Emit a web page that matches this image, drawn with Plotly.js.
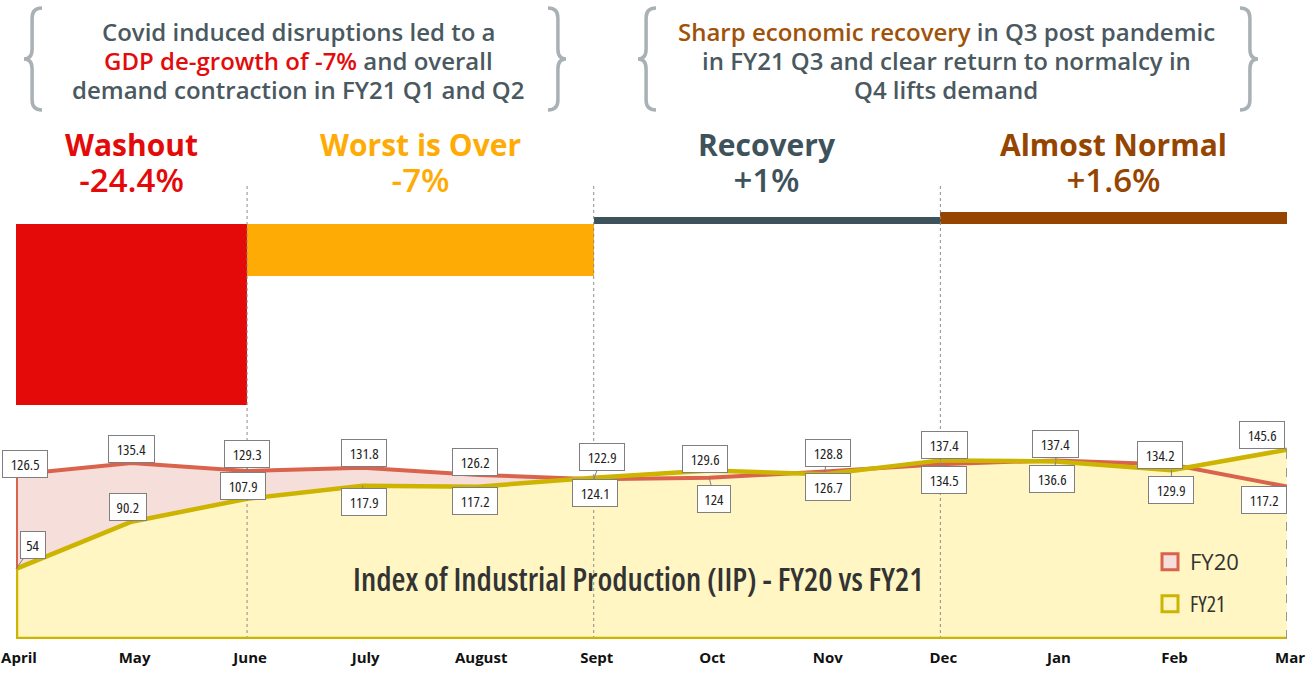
<!DOCTYPE html>
<html>
<head>
<meta charset="utf-8">
<script src="https://cdn.plot.ly/plotly-3.0.1.min.js"></script>
<style>
html,body{margin:0;padding:0;background:#fff;}
#chart{width:1314px;height:673px;}
#chart text{font-stretch:75%;}
#chart g.xtick text{font-stretch:100%;}
#chart text.legendtext{font-stretch:100%;}
</style>
</head>
<body>
<div id="chart"></div>
<script>
// ---------------- DATA ----------------
const months = ['April','May','June','July','August','Sept','Oct','Nov','Dec','Jan','Feb','Mar'];
const fy20 = [126.5, 135.4, 129.3, 131.8, 126.2, 122.9, 124, 128.8, 134.5, 137.4, 134.2, 117.2];
const fy21 = [54, 90.2, 107.9, 117.9, 117.2, 124.1, 129.6, 126.7, 137.4, 136.6, 129.9, 145.6];
const quarterNames = ['Washout', 'Worst is Over', 'Recovery', 'Almost Normal'];
const quarterGDP = [-24.4, -7, 1, 1.6];
const quarterStart = ['April', 'June', 'Sept', 'Dec'];
const quarterEnd = ['June', 'Sept', 'Dec', 'Mar'];
const chartTitle = 'Index of Industrial Production (IIP) - FY20 vs FY21';
const seriesNames = ['FY20', 'FY21'];
const noteLeft = ['Covid induced disruptions led to a', '<span style="color:#E30B0B">GDP de-growth of -7%</span> and overall', 'demand contraction in FY21 Q1 and Q2'];
const noteRight = ['<span style="color:#A0520A">Sharp economic recovery</span> in Q3 post pandemic', 'in FY21 Q3 and clear return to normalcy in', 'Q4 lifts demand'];

// ---------------- STYLE / LAYOUT ----------------
const W = 1314, H = 673;
const ML = 16, MR = 27, MT = 0, MB = 34;
const PW = W - ML - MR, PH = H - MT - MB;
const px = p => (p - ML) / PW;
const py = p => (H - MB - p) / PH;
const FONT = '"Open Sans", sans-serif';
const quarterColors = ['#E50A0A', '#FFAB05', '#3E525C', '#954500'];
const RED = '#D9634C', GOLD = '#CDB400';
const TXT = '#4A5960';
// label offsets (pixels) for callouts
const off20 = [[9,-11],[0,-14],[0,-17],[1,-15],[-3,-13],[8,-22],[5,21],[3,-19],[4,16],[0,-16],[-11,-10],[-23,13]];
const off21 = [[17,-24],[-4,-15],[-4,-13],[1,16],[-3,14],[1,15],[-4,-12],[3,13],[4,-15],[-4,18],[0,20],[-25,-15]];

const xi = months.map((m, i) => i);
const qs = quarterStart.map(m => months.indexOf(m));
const qe = quarterEnd.map(m => months.indexOf(m));

const traces = [
  {x: xi, y: fy20, type: 'scatter', mode: 'lines', fill: 'tozeroy', fillcolor: '#F6DEDA',
   line: {width: 0, color: RED}, showlegend: false, hoverinfo: 'skip', xaxis: 'x', yaxis: 'y'},
  {x: xi, y: fy21, type: 'scatter', mode: 'lines', fill: 'tozeroy', fillcolor: '#FFF6C4',
   line: {width: 0, color: GOLD}, showlegend: false, hoverinfo: 'skip', xaxis: 'x', yaxis: 'y'},
  {x: xi, y: fy20, type: 'scatter', mode: 'lines', line: {width: 4, color: RED},
   showlegend: false, cliponaxis: false, hoverinfo: 'skip', xaxis: 'x', yaxis: 'y'},
  {x: xi, y: fy21, type: 'scatter', mode: 'lines', line: {width: 4.5, color: GOLD},
   showlegend: false, cliponaxis: false, hoverinfo: 'skip', xaxis: 'x', yaxis: 'y'},
  {x: qs.map((s, i) => (s + qe[i]) / 2), y: quarterGDP, width: qs.map((s, i) => qe[i] - s),
   type: 'bar', marker: {color: quarterColors, line: {width: 0}}, showlegend: false,
   hoverinfo: 'skip', xaxis: 'x', yaxis: 'y2'},
  {x: [null], y: [null], type: 'scatter', mode: 'markers', name: seriesNames[0], legend: 'legend',
   marker: {symbol: 'square', size: 16, color: '#F6DEDA', line: {color: RED, width: 3}}},
  {x: [null], y: [null], type: 'scatter', mode: 'markers', name: seriesNames[1], legend: 'legend2',
   marker: {symbol: 'square', size: 16, color: '#FFF6C4', line: {color: GOLD, width: 3}}}
];

const annotations = [];
const stretchRules = [];
function addAnn(a, stretch) {
  if (stretch) stretchRules.push('#chart g.annotation[data-index="' + annotations.length + '"] text{font-stretch:' + stretch + ';}');
  annotations.push(a);
}
function callout(i, v, o) {
  addAnn({x: i, y: v, xref: 'x', yref: 'y', text: String(v), showarrow: true,
    ax: o[0], ay: o[1], axref: 'pixel', ayref: 'pixel', arrowhead: 0, arrowwidth: 1,
    arrowcolor: '#7F7F7F', standoff: 0, bgcolor: '#FFFFFF', bordercolor: '#7F7F7F',
    borderwidth: 1, borderpad: 3, font: {family: FONT, size: 15, color: '#222'}}, '75%');
}
fy20.forEach((v, i) => callout(i, v, off20[i]));
fy21.forEach((v, i) => callout(i, v, off21[i]));

// quarter labels (name + GDP growth, two lines in one annotation)
quarterNames.forEach((n, i) => {
  const cx = (qs[i] + qe[i]) / 2;
  const v = quarterGDP[i];
  const s = (v > 0 ? '+' : '') + v + '%';
  addAnn({x: cx, y: py(163), xref: 'x', yref: 'paper', showarrow: false,
    text: '<b><span style="font-size:30px">' + n + '</span></b><br><span style="font-size:33px">' + s + '</span>',
    xanchor: 'center', yanchor: 'middle', align: 'center',
    font: {family: FONT, size: 28, weight: 600, color: quarterColors[i]}}, '100%');
});

// header notes, one annotation per line
const noteY = [32, 60, 89];
noteLeft.forEach((t, k) => addAnn({x: px(298), y: py(noteY[k]), xref: 'paper', yref: 'paper', showarrow: false,
  xanchor: 'center', yanchor: 'middle', text: t, font: {family: FONT, size: 24, weight: 600, color: TXT}}, '100%'));
noteRight.forEach((t, k) => addAnn({x: px(946), y: py(noteY[k]), xref: 'paper', yref: 'paper', showarrow: false,
  xanchor: 'center', yanchor: 'middle', text: t, font: {family: FONT, size: 24, weight: 600, color: TXT}}, '100%'));

// chart title inside area
addAnn({x: px(638), y: py(578), xref: 'paper', yref: 'paper', showarrow: false,
  xanchor: 'center', yanchor: 'middle',
  text: chartTitle, font: {family: FONT, size: 32, weight: 600, color: '#333'}}, '75%');

const st = document.createElement('style');
st.textContent = stretchRules.join('\n');
document.head.appendChild(st);

// braces
function brace(tip, ends, y0, y1) {
  const b = tip + (ends - tip) * 0.45;
  const ym = (y0 + y1) / 2, r = 10;
  const P = (x, y) => px(x) + ',' + py(y);
  return 'M' + P(ends, y0) + ' Q' + P(b, y0) + ' ' + P(b, y0 + r) + ' L' + P(b, ym - r) +
    ' Q' + P(b, ym) + ' ' + P(tip, ym) + ' Q' + P(b, ym) + ' ' + P(b, ym + r) +
    ' L' + P(b, y1 - r) + ' Q' + P(b, y1) + ' ' + P(ends, y1);
}
const shapes = [];
[[24, 42], [566, 548], [638, 656], [1258, 1240]].forEach(t => {
  shapes.push({type: 'path', xref: 'paper', yref: 'paper', path: brace(t[0], t[1], 8, 110),
    line: {color: '#A9B1B5', width: 3.5}});
});
// quarter separators
qs.slice(1).forEach(s => {
  shapes.push({type: 'line', xref: 'x', yref: 'paper', x0: s, x1: s, y0: 0, y1: py(183),
    line: {color: '#8C8C8C', width: 1, dash: 'dot'}});
});
// outline of area
shapes.push({type: 'line', xref: 'x', yref: 'y', x0: 0, x1: 0, y0: fy21[0], y1: fy20[0], line: {color: RED, width: 4}});
shapes.push({type: 'line', xref: 'x', yref: 'y', x0: 0, x1: 0, y0: 0, y1: fy21[0], line: {color: GOLD, width: 4.5}});
shapes.push({type: 'line', xref: 'x', yref: 'y', x0: 0, x1: months.length - 1, y0: 0, y1: 0, line: {color: GOLD, width: 4.5}});
shapes.push({type: 'line', xref: 'x', yref: 'y', x0: months.length - 1, x1: months.length - 1, y0: 0, y1: fy21[fy21.length - 1],
  line: {color: '#9A9A80', width: 2, dash: 'dash'}});

const bottomTop = 430;
const topDomTop = 180, topDomBot = 410, baseY = 224, gdpScale = 7.4;

const layout = {
  width: W, height: H, margin: {l: ML, r: MR, t: MT, b: MB},
  paper_bgcolor: '#FFFFFF', plot_bgcolor: 'rgba(0,0,0,0)',
  font: {family: FONT},
  xaxis: {range: [0, months.length - 1], tickvals: xi, ticktext: months, showgrid: false, zeroline: false,
    showline: false, ticks: '', tickfont: {family: FONT, size: 15, color: '#111', weight: 700},
    anchor: 'y', ticklabelstandoff: 8, ticklabelshift: 3, ticklabeloverflow: 'allow'},
  yaxis: {domain: [0, py(bottomTop)], range: [0, (H - MB - bottomTop) / 1.3], visible: false},
  yaxis2: {domain: [py(topDomBot), py(topDomTop)], range: [-(topDomBot - baseY) / gdpScale, (baseY - topDomTop) / gdpScale],
    visible: false, anchor: 'x'},
  bargap: 0,
  showlegend: true,
  legend: {x: px(1150), y: py(541), xanchor: 'left', yanchor: 'top', bgcolor: 'rgba(0,0,0,0)',
    font: {family: FONT, size: 22, color: '#333'}},
  legend2: {x: px(1150), y: py(583), xanchor: 'left', yanchor: 'top', bgcolor: 'rgba(0,0,0,0)',
    font: {family: FONT, size: 22, color: '#333'}},
  annotations: annotations,
  shapes: shapes
};

Plotly.newPlot('chart', traces, layout, {displayModeBar: false, staticPlot: true});
</script>
</body>
</html>
